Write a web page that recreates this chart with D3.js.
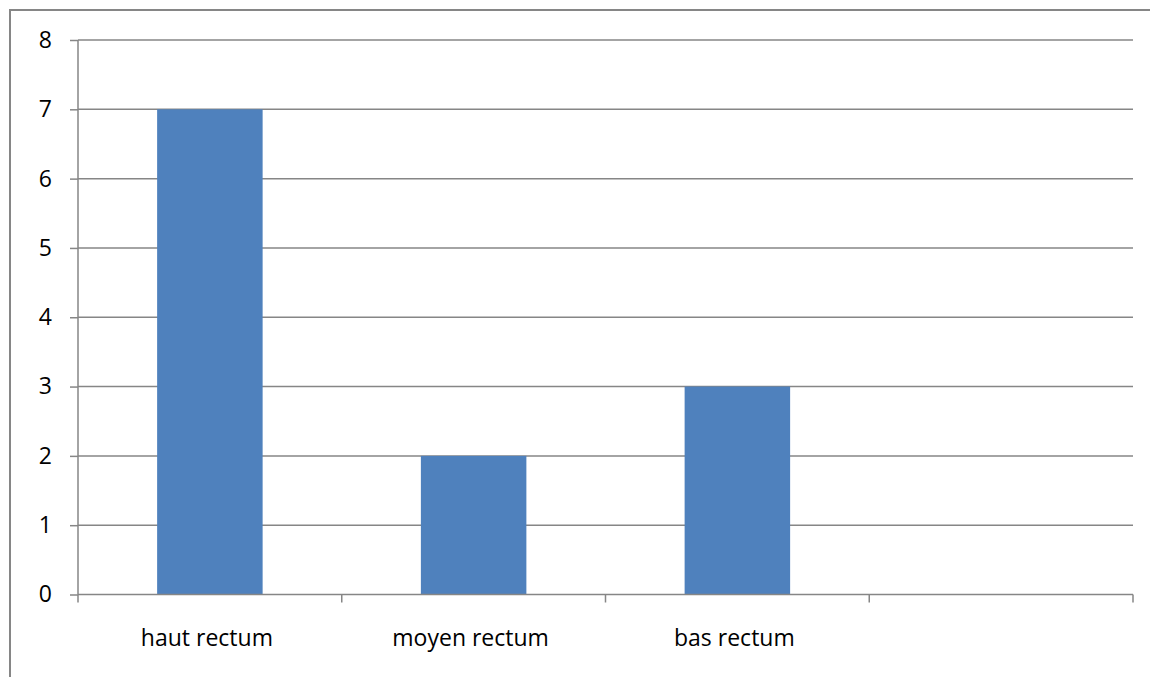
<!DOCTYPE html>
<html>
<head>
<meta charset="utf-8">
<script src="https://cdn.jsdelivr.net/npm/d3@7"></script>
<style>
  body { margin: 0; background: #fff; }
  text { font-family: "Open Sans", "Noto Sans", sans-serif; fill: #000; }
</style>
</head>
<body>
<div id="chart"></div>
<script>
// chart data
var categories = ["haut rectum", "moyen rectum", "bas rectum", ""];
var values = [7, 2, 3, null];
var yTicks = [0, 1, 2, 3, 4, 5, 6, 7, 8];

//svg size
var svgWidth = 1150;
var svgHeight = 677;

var margin = { top: 40, left: 78, right: 17, bottom: 82.5 };
var width = svgWidth - margin.left - margin.right;
var height = svgHeight - margin.top - margin.bottom;

var gridColor = "#868686";

var svg = d3.select("#chart").append("svg")
    .attr("width", svgWidth)
    .attr("height", svgHeight);

// outer frame (runs off the right and bottom edges)
svg.append("rect")
    .attr("x", 10)
    .attr("y", 10)
    .attr("width", svgWidth + 20)
    .attr("height", svgHeight + 20)
    .attr("fill", "none")
    .attr("stroke", gridColor)
    .attr("stroke-width", 2);

var chartGroup = svg.append("g")
    .attr("transform", `translate(${margin.left}, ${margin.top})`);

var xBand = d3.scaleBand()
    .domain(d3.range(categories.length))
    .range([0, width])
    .paddingInner(0.6)
    .paddingOuter(0.3);

var yLinearScale = d3.scaleLinear()
    .domain([0, 8])
    .range([height, 0]);

// gridlines
chartGroup.selectAll(".grid")
    .data(yTicks.filter(d => d > 0))
    .enter()
    .append("line")
    .attr("x1", 0)
    .attr("x2", width)
    .attr("y1", d => yLinearScale(d))
    .attr("y2", d => yLinearScale(d))
    .attr("stroke", gridColor)
    .attr("stroke-width", 1.5);

// bars
chartGroup.selectAll("rect.bar")
    .data(values.map((v, i) => ({ v: v, i: i })).filter(d => d.v != null))
    .enter()
    .append("rect")
    .classed("bar", true)
    .attr("x", d => xBand(d.i))
    .attr("width", xBand.bandwidth())
    .attr("y", d => yLinearScale(d.v))
    .attr("height", d => height - yLinearScale(d.v))
    .attr("fill", "#4F81BD");

// y axis
var leftAxis = d3.axisLeft(yLinearScale)
    .tickValues(yTicks)
    .tickSize(8)
    .tickPadding(18)
    .tickFormat(d3.format("d"));

var yAxis = chartGroup.append("g").call(leftAxis);
yAxis.select(".domain").attr("stroke", gridColor).attr("stroke-width", 1.5).attr("d", `M0,0V${height}`);
yAxis.selectAll(".tick line").attr("stroke", gridColor).attr("stroke-width", 1.5);
yAxis.selectAll(".tick text").attr("font-size", "23px").attr("font-family", "Open Sans, Noto Sans, sans-serif").attr("fill", "#000");

// x axis: category boundaries
var xEdge = d3.scaleLinear().domain([0, categories.length]).range([0, width]);
var xAxis = chartGroup.append("g").attr("transform", `translate(0, ${height})`);
xAxis.append("line")
    .attr("x1", 0).attr("x2", width)
    .attr("stroke", gridColor).attr("stroke-width", 1.5);
xAxis.selectAll(".xtick")
    .data(d3.range(categories.length + 1))
    .enter()
    .append("line")
    .attr("x1", d => xEdge(d)).attr("x2", d => xEdge(d))
    .attr("y1", 0).attr("y2", 8)
    .attr("stroke", gridColor).attr("stroke-width", 1.5);
xAxis.selectAll(".xlabel")
    .data(categories)
    .enter()
    .append("text")
    .attr("x", (d, i) => xBand(i) + xBand.bandwidth() / 2 - 3)
    .attr("y", 51)
    .attr("text-anchor", "middle")
    .attr("font-size", "23px")
    .text(d => d);
</script>
</body>
</html>
